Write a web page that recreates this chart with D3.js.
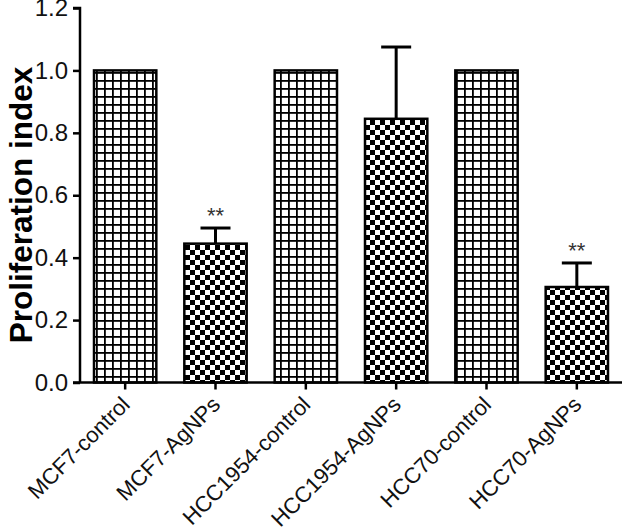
<!DOCTYPE html>
<html><head><meta charset="utf-8">
<script src="https://cdn.jsdelivr.net/npm/d3@7"></script>
<style>body{margin:0;background:#fff}svg{display:block}</style>
</head><body>
<svg id="c" width="624" height="528"></svg>
<script>
const categories = ["MCF7-control","MCF7-AgNPs","HCC1954-control","HCC1954-AgNPs","HCC70-control","HCC70-AgNPs"];
const values = [1.0, 0.445, 1.0, 0.845, 1.0, 0.306];
const errors = [0, 0.05, 0, 0.23, 0, 0.077];
const kinds = ["grid","check","grid","check","grid","check"];
const marks = ["", "**", "", "", "", "**"];
const yTicks = [0.0, 0.2, 0.4, 0.6, 0.8, 1.0, 1.2];

const svg = d3.select("#c");
const font = "'Liberation Sans', Arial, sans-serif";
const defs = svg.append("defs");
const g1 = defs.append("pattern").attr("id","grid").attr("patternUnits","userSpaceOnUse")
  .attr("width",8).attr("height",8);
g1.append("rect").attr("width",8).attr("height",8).attr("fill","#fff");
g1.append("rect").attr("x",0).attr("y",0).attr("width",8).attr("height",1.8).attr("fill","#000");
g1.append("rect").attr("x",0).attr("y",0).attr("width",1.8).attr("height",8).attr("fill","#000");
const g2 = defs.append("pattern").attr("id","check").attr("patternUnits","userSpaceOnUse")
  .attr("width",10).attr("height",10);
g2.append("rect").attr("width",10).attr("height",10).attr("fill","#fff");
g2.append("rect").attr("x",0).attr("y",0).attr("width",5).attr("height",5).attr("fill","#000");
g2.append("rect").attr("x",5).attr("y",5).attr("width",5).attr("height",5).attr("fill","#000");

const x = d3.scaleBand().domain(categories).range([80, 622]).paddingInner(0.31).paddingOuter(0.155);
const y = d3.scaleLinear().domain([0, 1.2]).range([382.5, 8]);

// bars
svg.selectAll("rect.bar").data(categories).enter().append("rect")
  .attr("class","bar")
  .attr("x", d => x(d))
  .attr("y", (d,i) => y(values[i]))
  .attr("width", x.bandwidth())
  .attr("height", (d,i) => y(0) - y(values[i]))
  .attr("fill", (d,i) => `url(#${kinds[i]})`)
  .attr("stroke","#000").attr("stroke-width",2.5);

// error bars
categories.forEach((c,i) => {
  if (!errors[i]) return;
  const cx = x(c) + x.bandwidth()/2;
  svg.append("line").attr("x1",cx).attr("x2",cx).attr("y1",y(values[i])).attr("y2",y(values[i]+errors[i]))
    .attr("stroke","#000").attr("stroke-width",3);
  svg.append("line").attr("x1",cx-15).attr("x2",cx+15).attr("y1",y(values[i]+errors[i])).attr("y2",y(values[i]+errors[i]))
    .attr("stroke","#000").attr("stroke-width",3);
  if (marks[i]) {
    svg.append("text").attr("x",cx).attr("y",y(values[i]+errors[i]) - 5)
      .attr("text-anchor","middle").attr("font-family",font).attr("font-size",22).attr("fill","#333")
      .text(marks[i]);
  }
});

// y axis
const yAxis = svg.append("g").attr("transform","translate(80,0)")
  .call(d3.axisLeft(y).tickValues(yTicks).tickFormat(d3.format(".1f")).tickSize(7).tickPadding(5));
yAxis.select(".domain").attr("stroke-width",2.5).attr("d","M-7,8H0V382.5");
yAxis.selectAll(".tick line").attr("stroke-width",2.5);
yAxis.selectAll(".tick text").attr("font-family",font).attr("font-size",24).attr("fill","#111");

// x axis
const xAxis = svg.append("g").attr("transform","translate(0,382.5)")
  .call(d3.axisBottom(x).tickSize(7).tickFormat(""));
xAxis.select(".domain").attr("stroke-width",2.5).attr("d","M73,0H622");
xAxis.selectAll(".tick line").attr("stroke-width",2.5);
svg.selectAll("text.xl").data(categories).enter().append("text").attr("class","xl")
  .attr("transform", d => `translate(${x(d)+x.bandwidth()/2+6},${406}) rotate(-45)`)
  .attr("text-anchor","end").attr("font-family",font).attr("font-size",22).attr("fill","#111")
  .text(d => d);

svg.append("text").attr("transform","translate(32,205) rotate(-90)")
  .attr("text-anchor","middle").attr("font-family",font).attr("font-size",31.5).attr("font-weight","bold")
  .attr("fill","#000").text("Proliferation index");
</script>
</body></html>
